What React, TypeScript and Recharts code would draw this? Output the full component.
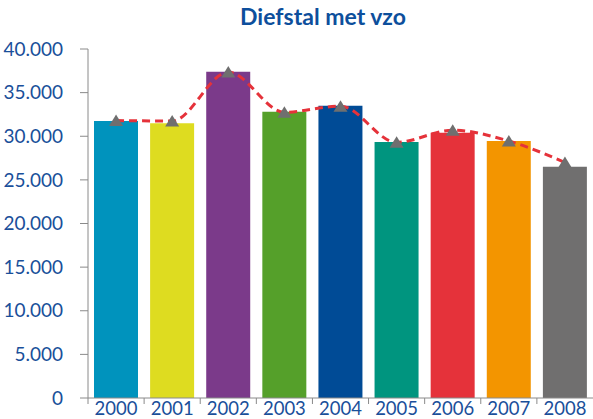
import React from 'react';
import { ComposedChart, Bar, Line, XAxis, YAxis, Cell } from 'recharts';

const years = ['2000', '2001', '2002', '2003', '2004', '2005', '2006', '2007', '2008'];
const diefstal = [31750, 31500, 37400, 32800, 33500, 29350, 30400, 29450, 26500];
const trend = [31800, 31750, 37350, 32750, 33450, 29300, 30700, 29450, 27000];
const barColors = ['#0093bd', '#dedc20', '#7b3a8a', '#55a02a', '#004b96', '#00957f', '#e5323a', '#f39500', '#706f6f'];
const yTicks = [0, 5000, 10000, 15000, 20000, 25000, 30000, 35000, 40000];

const W = 593;
const H = 419;
const AXIS_W = 88;
const BAND = (W - AXIS_W) / years.length;

const data = years.map((y, i) => ({ year: y, diefstal: diefstal[i], trend: trend[i] }));

const blue = '#1a4f9a';
const font = 'Lato, "Open Sans", sans-serif';

const fmt = (v: number) => String(v).replace(/\B(?=(\d{3})+(?!\d))/g, '.');

const XTick = (props: any) => {
    const { x, y, payload } = props;
    const lx = x - BAND / 2;
    return (
        <g>
            <line x1={lx} y1={y} x2={lx} y2={y + 6} stroke="#8a8a8a" strokeWidth={1} />
            <text x={x} y={y + 17} textAnchor="middle" fill={blue} fontSize={18.5} fontFamily={font}>
                {payload.value}
            </text>
        </g>
    );
};

const Triangle = (props: any) => {
    const { cx, cy } = props;
    if (cx == null || cy == null) return null;
    return (
        <path
            d={`M${cx},${cy - 6} L${cx + 7},${cy + 5.5} L${cx - 7},${cy + 5.5} Z`}
            fill="#6f6f6f"
        />
    );
};

const App = () => {
    return (
        <div style={{ position: 'absolute', left: 0, top: 0, width: W, height: H }}>
            <div
                style={{
                    position: 'absolute',
                    left: 0,
                    width: 646,
                    top: 5,
                    textAlign: 'center',
                    fontFamily: font,
                    fontWeight: 'bold',
                    fontSize: 23,
                    lineHeight: '23px',
                    color: '#0d4f9c'
                }}
            >
                Diefstal met vzo
            </div>
            <ComposedChart
                data={data}
                width={W}
                height={H}
                margin={{ top: 49, right: 0, left: 0, bottom: 0 }}
            >
                <XAxis
                    dataKey="year"
                    height={21}
                    tickLine={false}
                    tickSize={0}
                    tickMargin={0}
                    axisLine={{ stroke: '#8a8a8a' }}
                    tick={<XTick />}
                    interval={0}
                />
                <YAxis
                    width={AXIS_W}
                    domain={[0, 40000]}
                    ticks={yTicks}
                    tickFormatter={fmt}
                    tickSize={8}
                    tickMargin={17}
                    axisLine={{ stroke: '#8a8a8a' }}
                    tickLine={{ stroke: '#8a8a8a' }}
                    tick={{ fill: blue, fontSize: 19, fontFamily: font }}
                    interval={0}
                />
                <Bar dataKey="diefstal" barSize={44} isAnimationActive={false}>
                    {data.map((d, i) => (
                        <Cell key={d.year} fill={barColors[i]} />
                    ))}
                </Bar>
                <Line
                    dataKey="trend"
                    type="monotone"
                    stroke="#e5323a"
                    strokeWidth={3}
                    strokeDasharray="8 5"
                    dot={<Triangle />}
                    activeDot={false}
                    isAnimationActive={false}
                />
            </ComposedChart>
        </div>
    );
};

export default App;
